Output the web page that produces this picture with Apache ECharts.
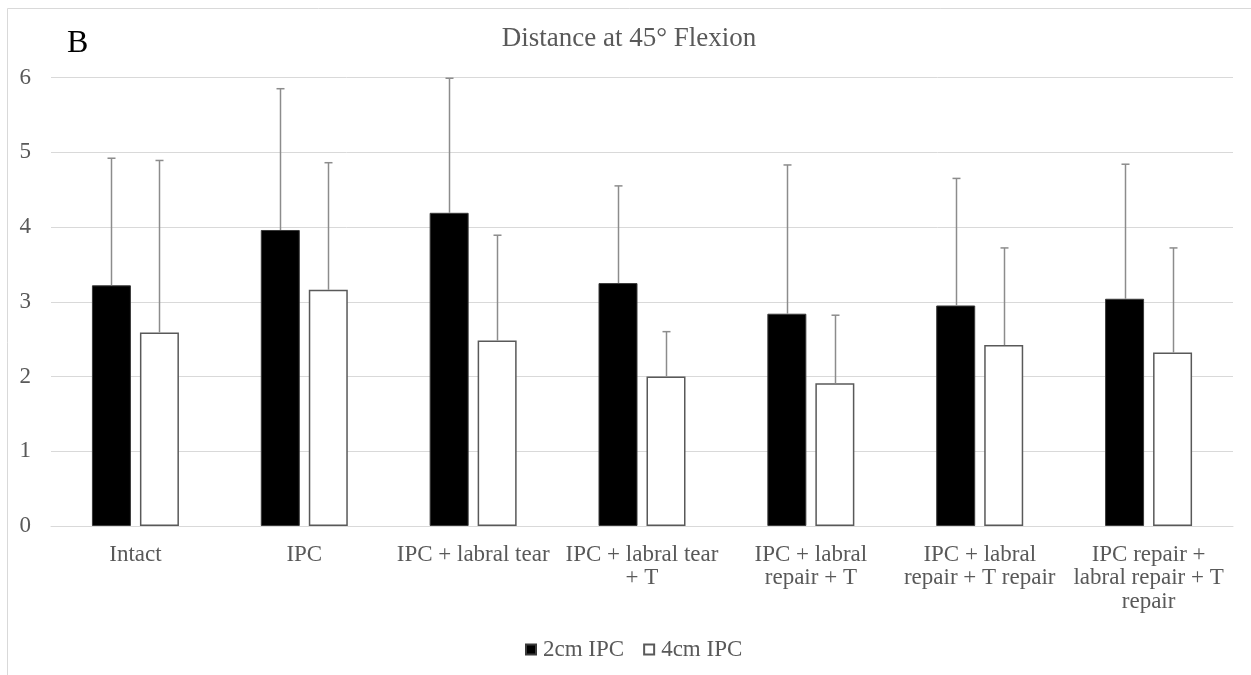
<!DOCTYPE html>
<html>
<head>
<meta charset="utf-8">
<script src="https://cdn.jsdelivr.net/npm/echarts@6/dist/echarts.min.js"></script>
<style>html,body{margin:0;padding:0;background:#fff;}#c{width:1251px;height:675px;}</style>
</head>
<body>
<div id="c"></div>
<script>
const categories = ["Intact", "IPC", "IPC + labral tear", "IPC + labral tear\n+ T", "IPC + labral\nrepair + T", "IPC + labral\nrepair + T repair", "IPC repair +\nlabral repair + T\nrepair"];
const seriesNames = ["2cm IPC", "4cm IPC"];
const mean2cm = [3.22, 3.96, 4.19, 3.25, 2.84, 2.95, 3.04];
const sd2cm   = [1.70, 1.89, 1.80, 1.30, 1.99, 1.70, 1.80];
const mean4cm = [2.59, 3.16, 2.48, 2.00, 1.91, 2.42, 2.32];
const sd4cm   = [2.30, 1.70, 1.41, 0.60, 0.91, 1.30, 1.40];
const yTicks = [0, 1, 2, 3, 4, 5, 6];

const FONT = '"Liberation Serif", "Times New Roman", serif';
const GRAY = '#595959';
const BAR_W = 39, BAR_GAP = 9;

function errSeries(means, sds, side) {
  return {
    type: 'custom',
    z: 5,
    data: means.map((m, i) => [i, m, m + sds[i]]),
    renderItem: function (params, api) {
      const off = side * (BAR_W + BAR_GAP) / 2;
      const b = api.coord([api.value(0), api.value(1)]);
      const t = api.coord([api.value(0), api.value(2)]);
      const x = Math.round(b[0] + off) + 0.5;
      const st = { stroke: '#8c8c8c', lineWidth: 1.5 };
      return {
        type: 'group',
        children: [
          { type: 'line', shape: { x1: x, y1: b[1], x2: x, y2: t[1] }, style: st },
          { type: 'line', shape: { x1: x - 4, y1: t[1], x2: x + 4, y2: t[1] }, style: st }
        ]
      };
    }
  };
}

const chart = echarts.init(document.getElementById('c'));
chart.setOption({
  animation: false,
  backgroundColor: '#fff',
  graphic: [
    { type: 'rect', shape: { x: 7.5, y: 8.5, width: 1300, height: 700 }, style: { fill: 'none', stroke: '#d9d9d9', lineWidth: 1 }, silent: true, z: -10 },
    { type: 'text', x: 67, y: 44, style: { text: 'B', font: '32px ' + FONT, fill: '#000', verticalAlign: 'middle' } },
    { type: 'text', x: 629, y: 39, style: { text: 'Distance at 45° Flexion', font: '27px ' + FONT, fill: GRAY, align: 'center', verticalAlign: 'middle' } }
  ],
  grid: { left: 51, right: 18, top: 77.5, bottom: 149, containLabel: false },
  legend: {
    data: seriesNames,
    bottom: 9,
    left: 520,
    itemWidth: 10,
    itemHeight: 10,
    itemGap: 19,
    icon: 'rect',
    textStyle: { fontFamily: FONT, fontSize: 23, color: GRAY, padding: [0, 0, 0, 2] }
  },
  xAxis: {
    type: 'category',
    data: categories,
    axisLine: { show: true, lineStyle: { color: '#d9d9d9', width: 1 } },
    axisTick: { show: false },
    axisLabel: { interval: 0, fontFamily: FONT, fontSize: 23, color: GRAY, lineHeight: 23.5, margin: 17 }
  },
  yAxis: {
    type: 'value',
    min: 0, max: 6, interval: 1,
    axisLine: { show: false },
    axisTick: { show: false },
    splitLine: { lineStyle: { color: '#d9d9d9', width: 1 } },
    axisLabel: { fontFamily: FONT, fontSize: 23, color: GRAY, margin: 20,
      formatter: v => yTicks.includes(v) ? String(v) : '' }
  },
  series: [
    { name: seriesNames[0], type: 'bar', data: mean2cm, barWidth: BAR_W, barGap: (BAR_GAP / BAR_W * 100) + '%',
      itemStyle: { color: '#000', borderColor: '#3a3a3a', borderWidth: 1 } },
    { name: seriesNames[1], type: 'bar', data: mean4cm, barWidth: BAR_W,
      itemStyle: { color: '#fff', borderColor: '#595959', borderWidth: 1.5 } },
    errSeries(mean2cm, sd2cm, -1),
    errSeries(mean4cm, sd4cm, 1)
  ]
});
</script>
</body>
</html>
